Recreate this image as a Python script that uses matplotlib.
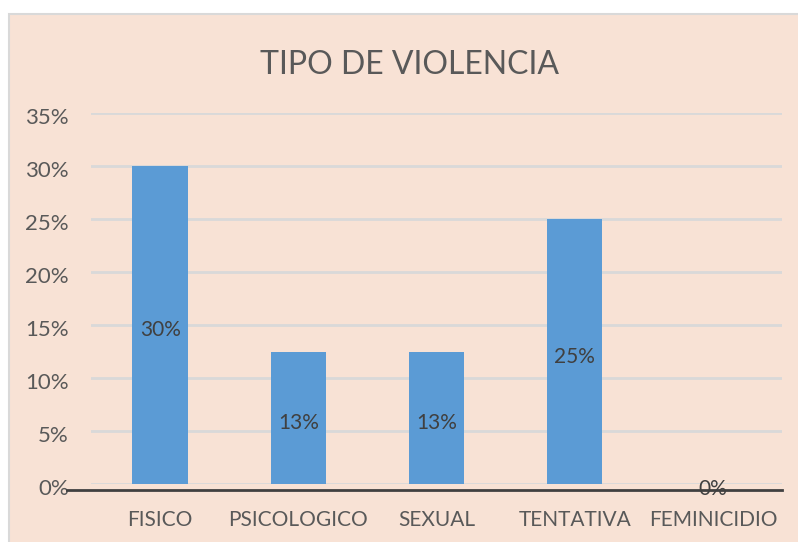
import matplotlib.pyplot as plt
from matplotlib.patches import Rectangle
from matplotlib.transforms import ScaledTranslation

categorias = ["FISICO", "PSICOLOGICO", "SEXUAL", "TENTATIVA", "FEMINICIDIO"]
valores = [0.30, 0.125, 0.125, 0.25, 0.0]
etiquetas = ["30%", "13%", "13%", "25%", "0%"]
yticks = [0, 0.05, 0.10, 0.15, 0.20, 0.25, 0.30, 0.35]

plt.rcParams['font.family'] = ['Lato', 'DejaVu Sans']
fondo = '#F8E2D5'
gris = '#595959'

fig = plt.figure(figsize=(7.98, 5.42), dpi=100)
fig.patch.set_facecolor('white')
fig.patches.append(Rectangle((9 / 798, -0.05), 1.0, 1 - 14 / 542 + 0.05,
                             transform=fig.transFigure, facecolor=fondo,
                             edgecolor='#D9D9D9', linewidth=1.5, zorder=-1))

ax = fig.add_axes([91 / 798, 1 - 484 / 542, 691 / 798, 371 / 542])
ax.set_facecolor('none')
x = range(len(categorias))
ax.bar(x, valores, width=0.4, color='#5B9BD5', zorder=3)
for xi, v, t in zip(x, valores, etiquetas):
    ax.text(xi, v / 2 - 0.005, t, ha='center', va='center', fontsize=15, color='#404040', zorder=5)

ax.set_xlim(-0.5, len(categorias) - 0.5)
ax.set_ylim(0, 0.35)
ax.set_yticks(yticks)
ax.set_yticklabels([f"{int(round(t * 100))}%" for t in yticks])
ax.set_xticks(list(x))
ax.set_xticklabels(categorias)
ax.tick_params(axis='y', length=0, pad=16, labelsize=16, labelcolor=gris)
ax.tick_params(axis='x', length=0, pad=19, labelsize=15, labelcolor=gris)
ax.grid(axis='y', color='#D9D9D9', linewidth=2, zorder=0)
for s in ax.spines.values():
    s.set_visible(False)

bajar = ScaledTranslation(0, -3 / 100, fig.dpi_scale_trans)
for lab in ax.get_yticklabels():
    lab.set_transform(lab.get_transform() + bajar)

# linea del eje, un poco por debajo del cero como en el original
off = ScaledTranslation(0, -6 / 100, fig.dpi_scale_trans)
ax.plot([-24 / 691, 1], [0, 0], color='#404040', linewidth=2, clip_on=False,
        zorder=4, transform=ax.get_yaxis_transform() + off)

fig.text(410 / 798, 1 - 65 / 542, "TIPO DE VIOLENCIA", ha='center', va='center',
         fontsize=23, color=gris)

fig.savefig('out.png', dpi=100, facecolor=fig.get_facecolor())
